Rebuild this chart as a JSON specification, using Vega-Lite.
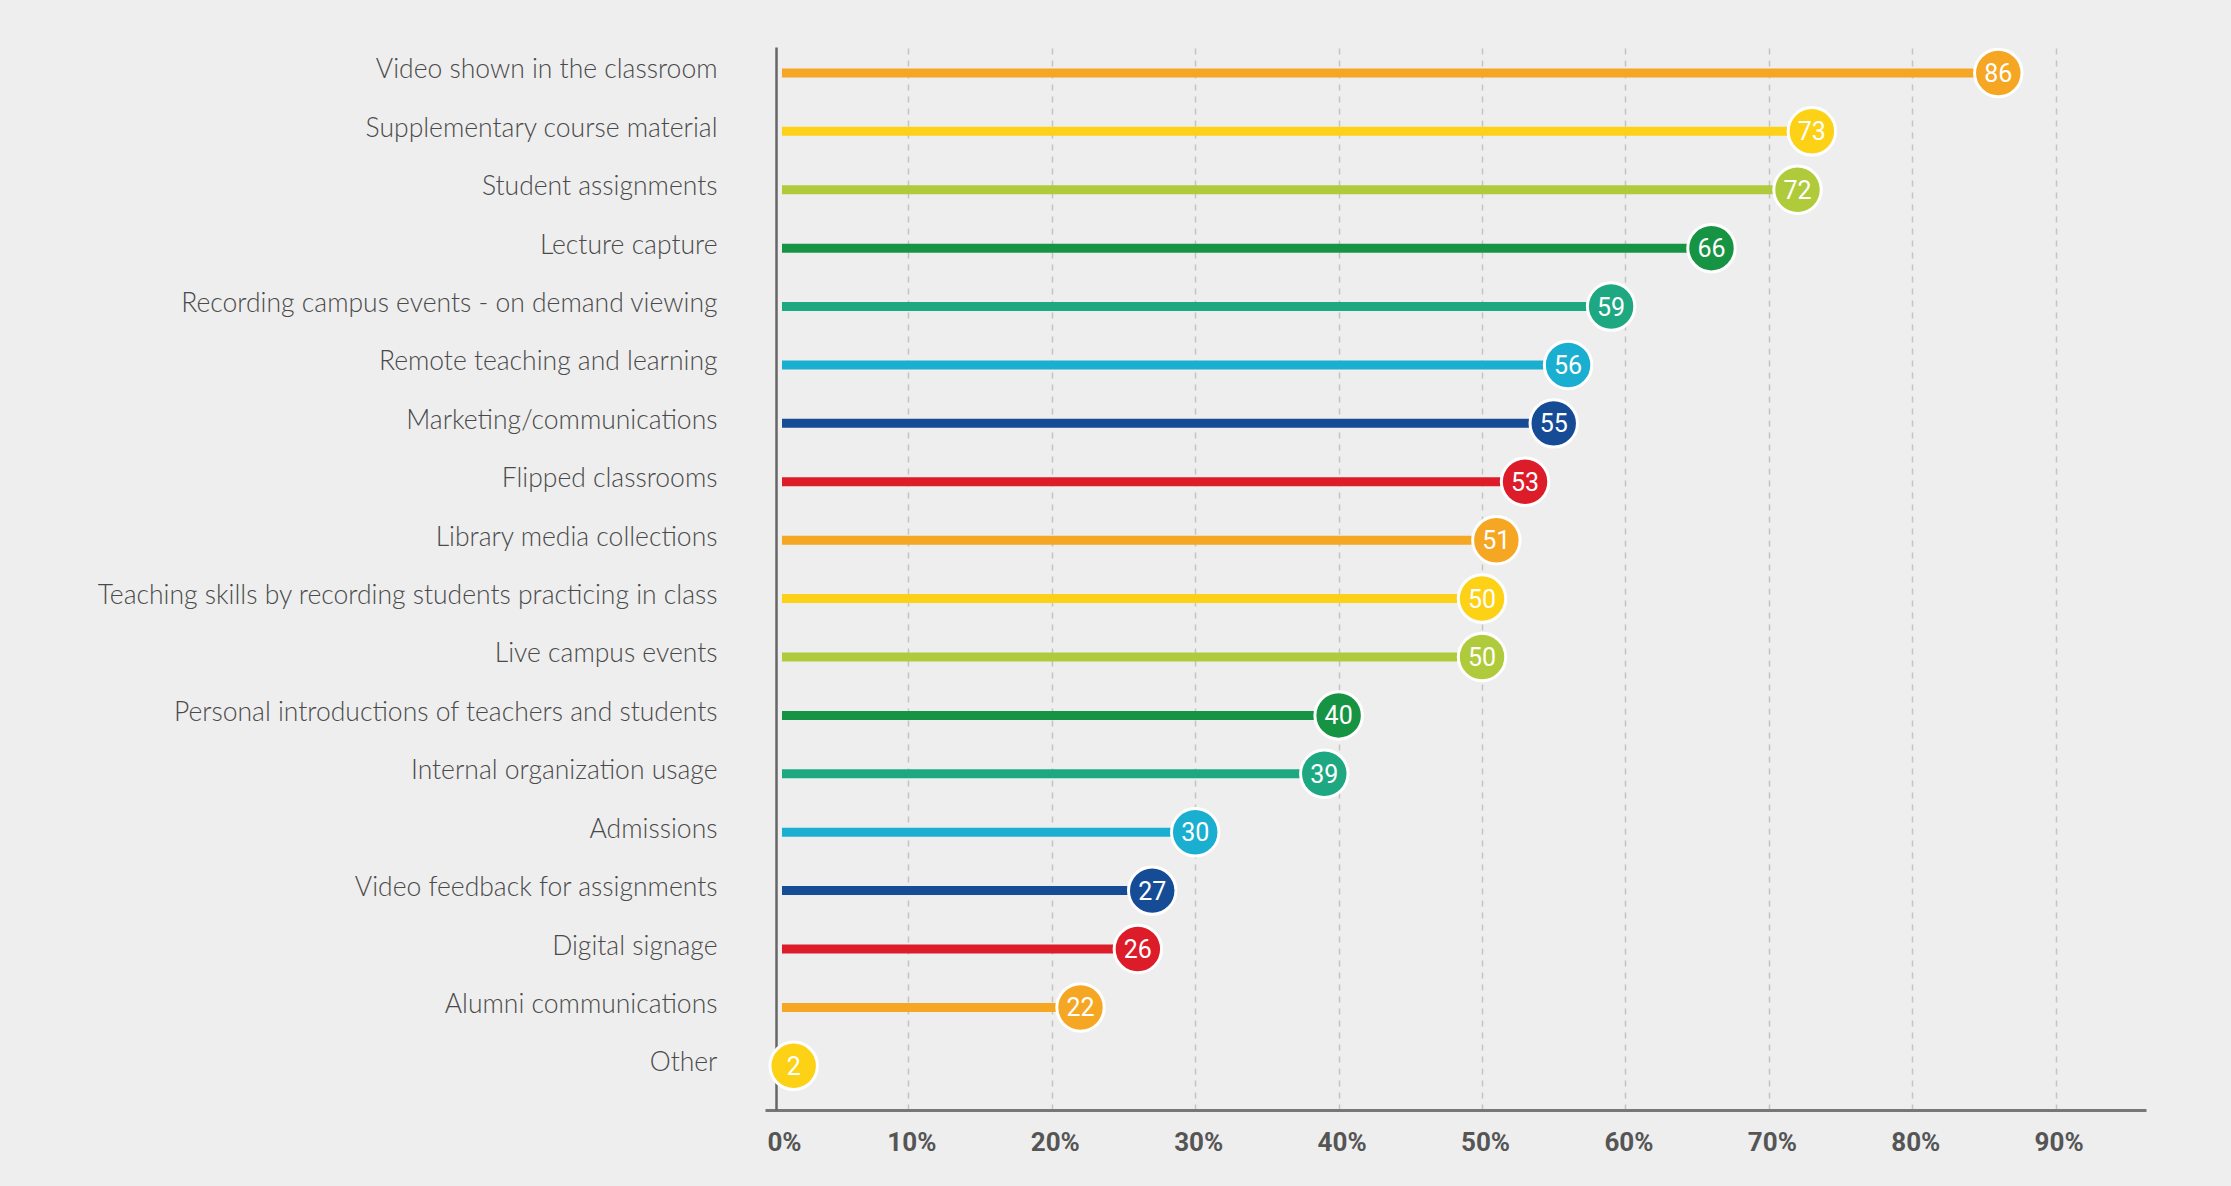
{
  "$schema": "https://vega.github.io/schema/vega-lite/v6.json",
  "width": 1381,
  "height": 1063,
  "autosize": {"type": "none"},
  "padding": {"left": 765, "top": 47, "right": 85, "bottom": 76},
  "background": "#eeeeee",
  "config": {"view": {"stroke": null}},
  "data": {
    "values": [
      {"label": "Video shown in the classroom", "value": 86},
      {"label": "Supplementary course material", "value": 73},
      {"label": "Student assignments", "value": 72},
      {"label": "Lecture capture", "value": 66},
      {"label": "Recording campus events - on demand viewing", "value": 59},
      {"label": "Remote teaching and learning", "value": 56},
      {"label": "Marketing/communications", "value": 55},
      {"label": "Flipped classrooms", "value": 53},
      {"label": "Library media collections", "value": 51},
      {"label": "Teaching skills by recording students practicing in class", "value": 50},
      {"label": "Live campus events", "value": 50},
      {"label": "Personal introductions of teachers and students", "value": 40},
      {"label": "Internal organization usage", "value": 39},
      {"label": "Admissions", "value": 30},
      {"label": "Video feedback for assignments", "value": 27},
      {"label": "Digital signage", "value": 26},
      {"label": "Alumni communications", "value": 22},
      {"label": "Other", "value": 2}
    ]
  },
  "encoding": {
    "y": {
      "field": "label",
      "type": "nominal",
      "sort": null,
      "scale": {"type": "point", "padding": 0.6, "align": 0.37},
      "axis": {
        "title": null,
        "offset": -11,
        "ticks": false,
        "grid": false,
        "domainColor": "#666666",
        "domainWidth": 2.5,
        "labelFont": "Lato",
        "labelFontWeight": 300,
        "labelFontSize": 26.5,
        "labelColor": "#4a4a4a",
        "labelPadding": 59,
        "labelOffset": -3,
        "labelLimit": 800
      }
    },
    "x": {
      "field": "value",
      "type": "quantitative",
      "scale": {"domain": [0, 96.3], "nice": false, "zero": false},
      "axis": {
        "title": null,
        "values": [0, 10, 20, 30, 40, 50, 60, 70, 80, 90],
        "labelExpr": "datum.value + '%'",
        "labelFlush": false,
        "ticks": false,
        "grid": true,
        "gridColor": "#c4c4c4",
        "gridDash": [6, 6],
        "gridWidth": 1.5,
        "gridOpacity": {"condition": {"test": "datum.value === 0", "value": 0}, "value": 1},
        "domainColor": "#777777",
        "domainWidth": 3,
        "labelFont": "Roboto",
        "labelFontWeight": "bold",
        "labelFontSize": 26,
        "labelColor": "#555555",
        "labelPadding": 19,
        "labelOffset": {"condition": {"test": "datum.value === 0", "value": 19}, "value": 3}
      }
    },
    "color": {
      "field": "label",
      "type": "nominal",
      "legend": null,
      "scale": {
        "domain": [
          "Video shown in the classroom",
          "Supplementary course material",
          "Student assignments",
          "Lecture capture",
          "Recording campus events - on demand viewing",
          "Remote teaching and learning",
          "Marketing/communications",
          "Flipped classrooms",
          "Library media collections",
          "Teaching skills by recording students practicing in class",
          "Live campus events",
          "Personal introductions of teachers and students",
          "Internal organization usage",
          "Admissions",
          "Video feedback for assignments",
          "Digital signage",
          "Alumni communications",
          "Other"
        ],
        "range": [
          "#F5A623", "#FCD116", "#AFCA3B", "#179443", "#1EA882", "#1AAFD0", "#154C95", "#DD1C2A",
          "#F5A623", "#FCD116", "#AFCA3B", "#179443", "#1EA882", "#1AAFD0", "#154C95", "#DD1C2A",
          "#F5A623", "#FCD116"
        ]
      }
    }
  },
  "layer": [
    {
      "mark": {"type": "rule", "strokeWidth": 9, "x2Offset": 17, "strokeCap": "butt"},
      "encoding": {
        "x2": {"datum": 0}
      }
    },
    {
      "mark": {"type": "point", "filled": true, "size": 2250, "stroke": "#ffffff", "strokeWidth": 3, "opacity": 1, "strokeOpacity": 1},
      "encoding": {}
    },
    {
      "mark": {"type": "text", "font": "Roboto", "fontSize": 25, "fontWeight": 400, "baseline": "middle", "align": "center", "dy": 1},
      "encoding": {
        "text": {"field": "value", "type": "quantitative"},
        "color": {"value": "#ffffff"}
      }
    }
  ]
}
